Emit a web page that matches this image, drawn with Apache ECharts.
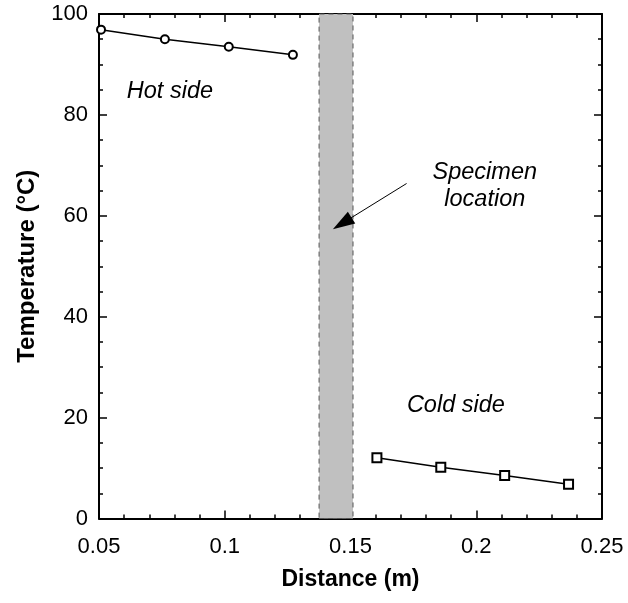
<!DOCTYPE html>
<html>
<head>
<meta charset="utf-8">
<script src="https://cdn.jsdelivr.net/npm/echarts@6/dist/echarts.min.js"></script>
<style>
  html, body { margin: 0; padding: 0; background: #fff; }
  #chart { width: 628px; height: 603px; }
</style>
</head>
<body>
<div id="chart"></div>
<script>
  // data
  var hotX = [0.0508, 0.0762, 0.1016, 0.1271];
  var hotT = [96.9, 95.0, 93.5, 91.9];
  var coldX = [0.1605, 0.1859, 0.2113, 0.2367];
  var coldT = [12.05, 10.15, 8.5, 6.8];
  var bandX = [0.1375, 0.151];
  var noteText = ['Hot side', 'Cold side', 'Specimen\nlocation'];
  var noteX = [0.0782, 0.1919, 0.2034];
  var noteY = [84.6, 22.5, 66.0];
  var arrowFrom = [0.1723, 66.4];
  var arrowTo = [0.1467, 58.5];

  var FONT = '"Liberation Sans", Arial, Helvetica, sans-serif';

  var pairs = function (xs, ys) {
    return xs.map(function (x, i) { return [x, ys[i]]; });
  };

  var axisBase = function (show) {
    return {
      axisLine: { show: true, onZero: false, lineStyle: { color: '#000', width: 2 } },
      axisTick: { show: true, inside: true, length: 8, lineStyle: { color: '#000', width: 1.5 } },
      minorTick: { show: true, length: 4, lineStyle: { color: '#000', width: 1.5 } },
      splitLine: { show: false },
      axisLabel: { show: show, color: '#000', fontSize: 22, fontFamily: FONT }
    };
  };

  var xBottom = Object.assign(axisBase(true), {
    type: 'value', min: 0.05, max: 0.25, interval: 0.05, position: 'bottom',
    name: 'Distance (m)', nameLocation: 'middle', nameGap: 50,
    nameTextStyle: { color: '#000', fontSize: 23, fontWeight: 'bold', fontFamily: FONT }
  });
  xBottom.axisLabel.margin = 17;
  xBottom.minorTick.splitNumber = 5;

  var xTop = Object.assign(axisBase(false), {
    type: 'value', min: 0.05, max: 0.25, interval: 0.05, position: 'top'
  });
  xTop.minorTick.splitNumber = 5;

  var yLeft = Object.assign(axisBase(true), {
    type: 'value', min: 0, max: 100, interval: 20, position: 'left',
    name: 'Temperature (°C)', nameLocation: 'middle', nameGap: 60,
    nameTextStyle: { color: '#000', fontSize: 24, fontWeight: 'bold', fontFamily: FONT }
  });
  yLeft.axisLabel.margin = 11;
  yLeft.minorTick.splitNumber = 4;

  var yRight = Object.assign(axisBase(false), {
    type: 'value', min: 0, max: 100, interval: 20, position: 'right'
  });
  yRight.minorTick.splitNumber = 4;

  var myChart = echarts.init(document.getElementById('chart'), null, { renderer: 'canvas' });

  myChart.setOption({
    animation: false,
    backgroundColor: '#fff',
    grid: { left: 99, right: 26, top: 14, bottom: 84.5 },
    xAxis: [xBottom, xTop],
    yAxis: [yLeft, yRight],
    series: [
      {
        //- hot side
        type: 'line',
        data: pairs(hotX, hotT),
        symbol: 'emptyCircle',
        symbolSize: 8,
        lineStyle: { color: '#000', width: 1.5 },
        itemStyle: { color: '#000', borderColor: '#000', borderWidth: 1.3 },
        markArea: {
          silent: true,
          itemStyle: { color: '#c0c0c0', borderColor: '#555', borderWidth: 1, borderType: [5, 4] },
          data: [[{ xAxis: bandX[0], yAxis: 0 }, { xAxis: bandX[1], yAxis: 100 }]]
        },
        z: 3
      },
      {
        //- cold side
        type: 'line',
        data: pairs(coldX, coldT),
        symbol: 'emptyRect',
        symbolSize: 9,
        lineStyle: { color: '#000', width: 1.5 },
        itemStyle: { color: '#000', borderColor: '#000', borderWidth: 1.3 },
        z: 3
      },
      {
        //- text notes and arrow
        type: 'scatter',
        data: noteText.map(function (t, i) { return { name: t, value: [noteX[i], noteY[i]] }; }),
        symbolSize: 0,
        silent: true,
        itemStyle: { opacity: 1 },
        label: {
          show: true,
          position: 'inside',
          formatter: '{b}',
          color: '#000',
          opacity: 1,
          fontSize: 23.5,
          fontStyle: 'italic',
          fontFamily: FONT,
          lineHeight: 27,
          align: 'center'
        },
        markLine: {
          silent: true,
          symbol: ['none', 'triangle'],
          symbolSize: [14, 22],
          label: { show: false },
          lineStyle: { color: '#000', width: 1, type: 'solid', opacity: 1 },
          itemStyle: { color: '#000', opacity: 1 },
          data: [[{ coord: arrowFrom }, { coord: arrowTo }]]
        },
        z: 4
      }
    ]
  });
</script>
</body>
</html>
